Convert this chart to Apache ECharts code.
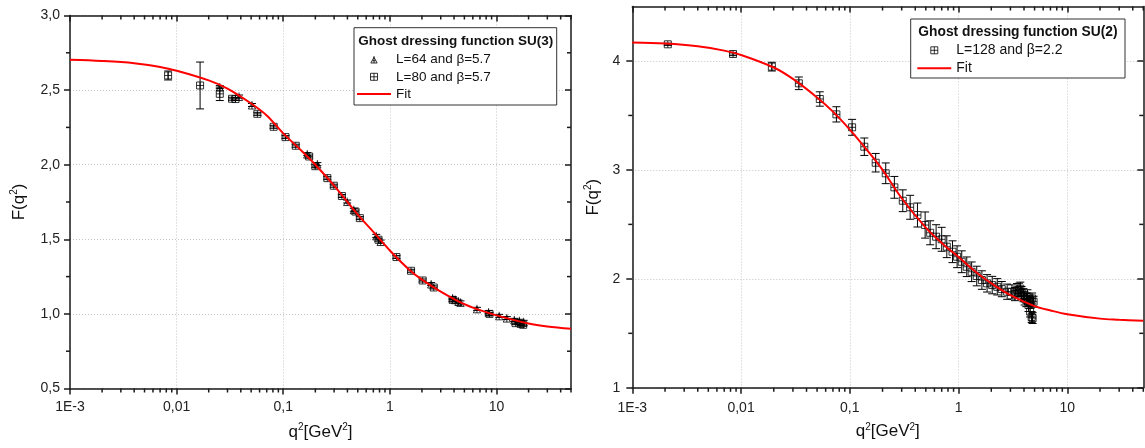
<!DOCTYPE html>
<html>
<head>
<meta charset="utf-8">
<script src="https://cdn.jsdelivr.net/npm/echarts@6/dist/echarts.min.js"></script>
<style>
html,body{margin:0;padding:0;background:#fff;}
#chart{width:1145px;height:448px;}
</style>
</head>
<body>
<div id="chart"></div>
<script>
// ---------- DATA ----------
// Left panel: SU(3) ghost dressing function
const q2L64 = [0.0254, 0.0385, 0.0509, 0.168, 0.209, 0.398, 0.459, 0.745, 0.82, 2.44, 3.88, 4.1, 4.4, 4.6, 6.56, 8.43, 10.6, 12.5, 14.7, 16.4, 18.0];
const FL64  = [2.52, 2.457, 2.40, 2.071, 2.004, 1.753, 1.698, 1.523, 1.485, 1.20, 1.106, 1.095, 1.083, 1.077, 1.034, 1.012, 0.987, 0.972, 0.96, 0.954, 0.947];
const errL64 = [0.01, 0.01, 0.01, 0.01, 0.01, 0.01, 0.01, 0.01, 0.01, 0.01, 0.01, 0.01, 0.01, 0.01, 0.01, 0.01, 0.01, 0.01, 0.01, 0.01, 0.01];

const q2L80 = [0.00832, 0.0166, 0.0254, 0.0331, 0.0357, 0.0572, 0.0813, 0.105, 0.131, 0.175, 0.200, 0.259, 0.298, 0.355, 0.476, 0.523, 0.782, 1.153, 1.58, 2.03, 2.58, 3.88, 8.6, 15.1, 16.9, 17.8];
const FL80  = [2.598, 2.531, 2.475, 2.442, 2.44, 2.341, 2.254, 2.185, 2.127, 2.055, 1.990, 1.910, 1.859, 1.79, 1.686, 1.642, 1.497, 1.381, 1.289, 1.224, 1.177, 1.094, 1.0, 0.938, 0.932, 0.927];
const errL80 = [0.03, 0.157, 0.045, 0.01, 0.01, 0.01, 0.01, 0.01, 0.01, 0.01, 0.01, 0.01, 0.01, 0.01, 0.01, 0.01, 0.01, 0.01, 0.01, 0.01, 0.01, 0.01, 0.01, 0.01, 0.01, 0.01];

const fitLq = [0.001, 0.002, 0.004, 0.007, 0.01, 0.02, 0.03, 0.05, 0.07, 0.1, 0.15, 0.2, 0.3, 0.5, 0.7, 1, 1.5, 2, 3, 5, 7, 10, 20, 30, 50];
const fitLF = [2.703, 2.695, 2.68, 2.655, 2.63, 2.565, 2.51, 2.41, 2.33, 2.21, 2.09, 2.00, 1.86, 1.665, 1.55, 1.425, 1.30, 1.23, 1.15, 1.065, 1.025, 0.99, 0.935, 0.915, 0.90];

// Right panel: SU(2) ghost dressing function
const q2R = [0.00212, 0.00844, 0.0192, 0.034, 0.053, 0.0753, 0.105, 0.136, 0.173, 0.214,
             0.257, 0.307, 0.359, 0.419, 0.493, 0.548, 0.622, 0.70, 0.78, 0.88,
             0.97, 1.07, 1.19, 1.32, 1.47, 1.64, 1.83, 2.04, 2.27, 2.5,
             2.8, 3.1, 3.3, 3.45, 3.6, 3.7, 3.8, 3.95, 4.05, 4.2,
             4.3, 4.4, 4.5, 4.55, 4.6, 4.7, 4.75, 4.8, 4.9];
const FR  = [4.153, 4.064, 3.948, 3.795, 3.651, 3.51, 3.391, 3.213, 3.066, 2.969,
             2.840, 2.717, 2.657, 2.586, 2.494, 2.423, 2.387, 2.363, 2.295, 2.249,
             2.203, 2.157, 2.111, 2.065, 2.026, 1.989, 1.959, 1.943, 1.927, 1.906,
             1.882, 1.88, 1.86, 1.897, 1.90, 1.91, 1.87, 1.85, 1.82, 1.805,
             1.84, 1.76, 1.80, 1.70, 1.78, 1.65, 1.82, 1.64, 1.79];
const errR = [0.01, 0.015, 0.04, 0.058, 0.066, 0.07, 0.073, 0.08, 0.085, 0.095,
              0.1, 0.1, 0.11, 0.11, 0.12, 0.11, 0.11, 0.11, 0.1, 0.1,
              0.1, 0.1, 0.09, 0.09, 0.09, 0.085, 0.08, 0.08, 0.075, 0.07,
              0.07, 0.065, 0.06, 0.06, 0.06, 0.06, 0.06, 0.06, 0.06, 0.06,
              0.06, 0.06, 0.05, 0.05, 0.05, 0.05, 0.05, 0.05, 0.05];

const fitRq = [0.001, 0.002, 0.004, 0.007, 0.01, 0.02, 0.03, 0.05, 0.07, 0.1, 0.15, 0.2, 0.3, 0.5, 0.7, 1, 1.5, 2, 3, 5, 7, 10, 20, 30, 50];
const fitRF = [4.17, 4.16, 4.135, 4.095, 4.055, 3.94, 3.835, 3.665, 3.535, 3.37, 3.16, 3.00, 2.74, 2.47, 2.33, 2.20, 2.05, 1.96, 1.85, 1.75, 1.71, 1.675, 1.635, 1.625, 1.615];

// Axis ticks / labels
const xMajor = [0.001, 0.01, 0.1, 1, 10];
const xMajorLabels = ['1E-3', '0,01', '0,1', '1', '10'];
const xMinor = [];
[0.001, 0.01, 0.1, 1, 10].forEach(d => { for (let k = 2; k <= 9; k++) { const v = d * k; if (v <= 50) xMinor.push(v); } });
const yMajorL = [0.5, 1.0, 1.5, 2.0, 2.5, 3.0];
const yMajorLabelsL = ['0,5', '1,0', '1,5', '2,0', '2,5', '3,0'];
const yMinorL = [0.75, 1.25, 1.75, 2.25, 2.75];
const yMajorR = [1, 2, 3, 4];
const yMajorLabelsR = ['1', '2', '3', '4'];
const yMinorR = [1.5, 2.5, 3.5];

const legendTitleL = 'Ghost dressing function SU(3)';
const legendTitleR = 'Ghost dressing function SU(2)';
const nameL64 = 'L=64 and β=5.7';
const nameL80 = 'L=80 and β=5.7';
const nameR128 = 'L=128 and β=2.2';
const nameFit = 'Fit';

// ---------- STYLE ----------
const FONT = 'Liberation Sans, Arial, sans-serif';
const AX = '#1a1a1a';
const AXW = 1.5;
const GRIDC = '#c4c4c4';
const X_MIN = 0.001, X_MAX = 50;
const SQ = 'path://M0,0H10V10H0Z M5,0V10 M0,5H10';
const TRI = 'path://M5,1L10,10H0Z M5,-1V10 M2.5,6.5H7.5';
const LINEICON = 'path://M0,0H34V2H0Z';
const hollow = { color: 'rgba(255,255,255,0)', borderColor: '#000', borderWidth: 1 };

function fmtX(v) {
  for (let i = 0; i < xMajor.length; i++) {
    if (Math.abs(Math.log10(v) - Math.log10(xMajor[i])) < 1e-6) return xMajorLabels[i];
  }
  return '';
}
function fmtY(vals, labels) {
  return function (v) {
    for (let i = 0; i < vals.length; i++) if (Math.abs(v - vals[i]) < 1e-6) return labels[i];
    return '';
  };
}

const nameRich = {
  a: { fontSize: 17, fontFamily: FONT, color: '#111', lineHeight: 20 },
  s: { fontSize: 10, fontFamily: FONT, color: '#111', lineHeight: 20, verticalAlign: 'top' }
};

function xAxisCfg(gridIndex, bottom, margin) {
  return {
    type: 'log', logBase: 10, gridIndex: gridIndex, position: bottom ? 'bottom' : 'top',
    min: X_MIN, max: X_MAX,
    name: bottom ? '{a|q}{s|2}{a|[GeV}{s|2}{a|]}' : '',
    nameLocation: 'middle', nameGap: 34,
    nameTextStyle: { rich: nameRich },
    axisLine: { show: true, onZero: false, lineStyle: { color: AX, width: AXW } },
    axisTick: { show: true, inside: !bottom, length: 6, customValues: xMajor, lineStyle: { color: AX, width: AXW } },
    axisLabel: { show: bottom, customValues: xMajor, formatter: fmtX, margin: margin, fontSize: 14, fontFamily: FONT, color: '#222' },
    splitLine: { show: bottom, lineStyle: { color: GRIDC, width: 1, type: [1, 2] } },
    minorTick: { show: false }
  };
}
function yAxisCfg(gridIndex, left, min, max, interval, vals, labels, nameGap, margin) {
  return {
    type: 'value', gridIndex: gridIndex, position: left ? 'left' : 'right',
    min: min, max: max, interval: interval,
    name: left ? '{a|F(q}{s|2}{a|)}' : '',
    nameLocation: 'middle', nameGap: nameGap,
    nameTextStyle: { rich: nameRich },
    axisLine: { show: true, onZero: false, lineStyle: { color: AX, width: AXW } },
    axisTick: { show: true, inside: !left, length: 6, customValues: vals, lineStyle: { color: AX, width: AXW } },
    axisLabel: { show: left, customValues: vals, formatter: fmtY(vals, labels), margin: margin, fontSize: 14, fontFamily: FONT, color: '#222' },
    splitLine: { show: left, lineStyle: { color: GRIDC, width: 1, type: [1, 2] } },
    minorTick: { show: false }
  };
}

function errRender(params, api) {
  const x = api.value(0), lo = api.value(1), hi = api.value(2);
  const p1 = api.coord([x, hi]), p2 = api.coord([x, lo]);
  const w = 4;
  const st = { stroke: '#000', lineWidth: 1 };
  return {
    type: 'group', children: [
      { type: 'line', shape: { x1: p1[0], y1: p1[1], x2: p2[0], y2: p2[1] }, style: st },
      { type: 'line', shape: { x1: p1[0] - w, y1: p1[1], x2: p1[0] + w, y2: p1[1] }, style: st },
      { type: 'line', shape: { x1: p2[0] - w, y1: p2[1], x2: p2[0] + w, y2: p2[1] }, style: st }
    ]
  };
}
function errSeries(q, F, e, xi, yi) {
  return {
    type: 'custom', xAxisIndex: xi, yAxisIndex: yi, silent: true, z: 3,
    renderItem: errRender,
    encode: { x: 0, y: [1, 2] },
    data: q.map((v, i) => [v, F[i] - e[i], F[i] + e[i]])
  };
}
// minor ticks: kind 0 = x minor, kind 1 = y minor
function minorRender(params, api) {
  const cs = params.coordSys;
  const kind = api.value(2);
  const st = { stroke: AX, lineWidth: AXW };
  const L = 4;
  const p = api.coord([api.value(0), api.value(1)]);
  if (kind === 0) {
    const b = cs.y + cs.height, t = cs.y;
    return { type: 'group', children: [
      { type: 'line', shape: { x1: p[0], y1: b, x2: p[0], y2: b + L }, style: st },
      { type: 'line', shape: { x1: p[0], y1: t, x2: p[0], y2: t + L }, style: st }
    ] };
  }
  const l = cs.x, r = cs.x + cs.width;
  return { type: 'group', children: [
    { type: 'line', shape: { x1: l - L, y1: p[1], x2: l, y2: p[1] }, style: st },
    { type: 'line', shape: { x1: r - L, y1: p[1], x2: r, y2: p[1] }, style: st }
  ] };
}
function minorSeries(xi, yi, yMid, yMinor) {
  const data = xMinor.map(v => [v, yMid, 0]).concat(yMinor.map(v => [1, v, 1]));
  return {
    type: 'custom', xAxisIndex: xi, yAxisIndex: yi, silent: true, z: 5,
    renderItem: minorRender, encode: { x: 0, y: 1 }, data: data
  };
}
function scatterSeries(name, q, F, sym, size, xi, yi) {
  return {
    type: 'scatter', name: name, xAxisIndex: xi, yAxisIndex: yi, silent: true, z: 4,
    symbol: sym, symbolSize: size, symbolKeepAspect: true,
    itemStyle: hollow,
    data: q.map((v, i) => [v, F[i]])
  };
}
function fitSeries(q, F, xi, yi) {
  return {
    type: 'line', name: nameFit, xAxisIndex: xi, yAxisIndex: yi, silent: true, z: 6,
    symbol: 'none', smooth: 0.35,
    lineStyle: { color: '#ff0000', width: 2 },
    itemStyle: { color: '#ff0000' },
    data: q.map((v, i) => [v, F[i]])
  };
}

const fitLegendItem = { name: nameFit, icon: LINEICON, itemStyle: { color: '#ff0000', borderWidth: 0 } };

const option = {
  animation: false,
  backgroundColor: '#fff',
  grid: [
    { left: 70, top: 15.5, width: 501, height: 373 },
    { left: 632.3, top: 6.5, width: 511, height: 381.3 }
  ],
  xAxis: [
    xAxisCfg(0, true, 12), xAxisCfg(0, false, 12),
    xAxisCfg(1, true, 13), xAxisCfg(1, false, 13)
  ],
  yAxis: [
    yAxisCfg(0, true, 0.5, 3.0, 0.5, yMajorL, yMajorLabelsL, 41, 10),
    yAxisCfg(0, false, 0.5, 3.0, 0.5, yMajorL, yMajorLabelsL, 41, 10),
    yAxisCfg(1, true, 1, 4.5, 1, yMajorR, yMajorLabelsR, 29, 12),
    yAxisCfg(1, false, 1, 4.5, 1, yMajorR, yMajorLabelsR, 29, 12)
  ],
  legend: [
    {
      left: 357, top: 52, orient: 'vertical', padding: 0, itemGap: 2.3,
      itemWidth: 34, itemHeight: 7, selectedMode: false,
      textStyle: { fontSize: 13.5, fontFamily: FONT, color: '#111', lineHeight: 15 },
      data: [
        { name: nameL64, icon: TRI, itemStyle: hollow },
        { name: nameL80, icon: SQ, itemStyle: hollow },
        fitLegendItem
      ]
    },
    {
      left: 917.3, top: 42.8, orient: 'vertical', padding: 0, itemGap: 3,
      itemWidth: 34, itemHeight: 7, selectedMode: false,
      textStyle: { fontSize: 14, fontFamily: FONT, color: '#111', lineHeight: 15 },
      data: [
        { name: nameR128, icon: SQ, itemStyle: hollow },
        fitLegendItem
      ]
    }
  ],
  graphic: [
    { type: 'rect', z: 3, shape: { x: 354, y: 27.7, width: 202.7, height: 77.3 }, style: { fill: '#fff', stroke: '#333', lineWidth: 1 } },
    { type: 'text', z: 5, x: 358.3, y: 41, style: { text: legendTitleL, font: 'bold 13.5px ' + FONT, fill: '#111', textVerticalAlign: 'middle' } },
    { type: 'rect', z: 3, shape: { x: 910.7, y: 19, width: 214.3, height: 59 }, style: { fill: '#fff', stroke: '#333', lineWidth: 1 } },
    { type: 'text', z: 5, x: 918.3, y: 32, style: { text: legendTitleR, font: 'bold 13.8px ' + FONT, fill: '#111', textVerticalAlign: 'middle' } }
  ],
  series: [
    minorSeries(0, 0, 1.5, yMinorL),
    errSeries(q2L64, FL64, errL64, 0, 0),
    errSeries(q2L80, FL80, errL80, 0, 0),
    scatterSeries(nameL64, q2L64, FL64, TRI, 8, 0, 0),
    scatterSeries(nameL80, q2L80, FL80, SQ, 7, 0, 0),
    fitSeries(fitLq, fitLF, 0, 0),

    minorSeries(2, 2, 2, yMinorR),
    errSeries(q2R, FR, errR, 2, 2),
    scatterSeries(nameR128, q2R, FR, SQ, 7, 2, 2),
    fitSeries(fitRq, fitRF, 2, 2)
  ]
};

const chart = echarts.init(document.getElementById('chart'), null, { renderer: 'canvas' });
chart.setOption(option);
</script>
</body>
</html>
